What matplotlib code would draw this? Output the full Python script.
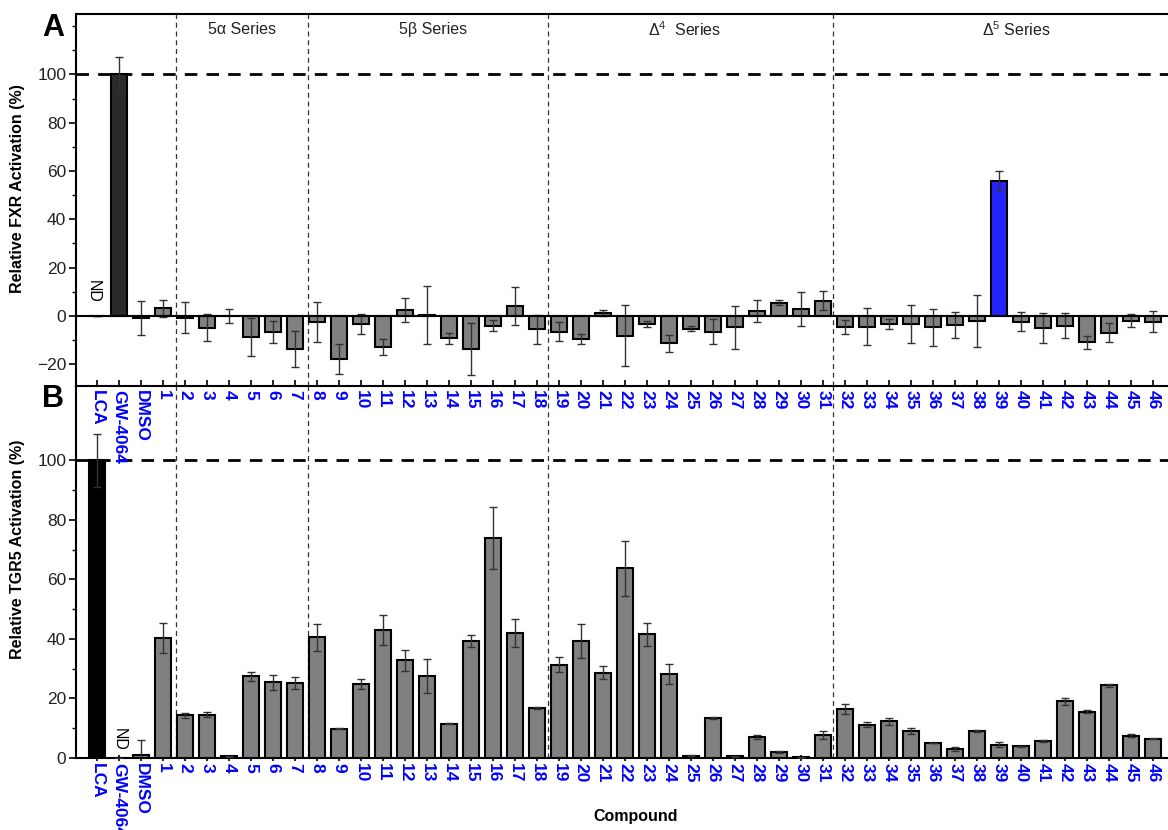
import numpy as np
import matplotlib.pyplot as plt
from matplotlib.ticker import MultipleLocator

plt.rcParams['font.family'] = ['Liberation Sans', 'DejaVu Sans']
plt.rcParams['mathtext.fontset'] = 'custom'
plt.rcParams['mathtext.rm'] = 'Liberation Sans'
plt.rcParams['mathtext.it'] = 'Liberation Sans'

nan = np.nan
compounds = ['LCA', 'GW-4064', 'DMSO'] + [str(i) for i in range(1, 47)]

# FXR activation (%), panel A
fxr_mean = [nan, 100, -0.7,
            3.2, -0.7, -4.8, 0.0, -8.6, -6.8, -13.7, -2.5, -17.8, -3.3,
            -12.7, 2.5, 0.5, -9.2, -13.7, -4.0, 4.1, -5.5, -6.5, -9.5,
            1.1, -8.1, -3.4, -11.3, -5.2, -6.5, -4.7, 2.1, 5.5, 2.9,
            6.3, -4.4, -4.4, -3.3, -3.3, -4.7, -3.7, -2.1, 56.0, -2.3,
            -5.1, -4.0, -10.9, -6.9, -1.9, -2.3]
fxr_err = [nan, 7, 7,
           3.5, 6.4, 5.5, 2.9, 7.8, 4.6, 7.5, 8.4, 6.2, 4.3,
           3.3, 5.1, 12, 2.3, 10.8, 2.4, 7.9, 6, 4, 2,
           1.2, 12.7, 1.3, 3.6, 1, 5.3, 8.9, 4.6, 0.9, 7,
           4, 2.9, 7.7, 1.9, 7.7, 7.7, 5.3, 10.7, 4, 3.8,
           6.3, 5.2, 2.7, 3.9, 2.8, 4.5]

# TGR5 activation (%), panel B
tgr5_mean = [100, nan, 0.9,
             40.2, 14.3, 14.6, 0.6, 27.5, 25.4, 25.1, 40.5, 9.9, 24.8,
             42.9, 32.8, 27.7, 11.5, 39.3, 73.8, 42.0, 16.9, 31.4, 39.3,
             28.6, 63.7, 41.5, 28.1, 0.8, 13.5, 0.6, 7.1, 1.9, 0.2,
             7.8, 16.6, 11.2, 12.3, 9.0, 5.0, 3.1, 9.1, 4.5, 3.9,
             5.7, 19.1, 15.5, 24.4, 7.5, 6.5]
tgr5_err = [9, nan, 5,
            5, 0.8, 0.9, 0.1, 1.5, 2.4, 2, 4.4, 0.2, 1.7,
            5, 3.6, 5.7, 0.2, 2.1, 10.4, 4.7, 0.3, 2.6, 5.6,
            2.2, 9.3, 3.7, 3.4, 0.1, 0.3, 0.1, 0.6, 0.3, 0.1,
            1.3, 1.7, 0.8, 1.3, 1, 0.1, 0.6, 0.3, 0.8, 0.1,
            0.3, 1.2, 0.5, 0.6, 0.4, 0.1]

series_names = ['5\u03b1 Series', '5\u03b2 Series', r'$\Delta^4$  Series', r'$\Delta^5$ Series']
series_bounds = [3.58, 9.58, 20.5, 33.45]
series_label_x = [6.6, 15.3, 26.7, 41.8]

x = np.arange(len(compounds))
fxr_colors = ['#808080'] * len(compounds)
fxr_colors[compounds.index('GW-4064')] = '#2a2a2a'
fxr_colors[compounds.index('39')] = '#2424ff'
tgr5_colors = ['#808080'] * len(compounds)
tgr5_colors[compounds.index('LCA')] = '#000000'

fig = plt.figure(figsize=(11.68, 8.3), dpi=100)
W, H = 1168, 830
left, right = 76, 1170
axB = fig.add_axes([left / W, (H - 758) / H, (right - left) / W, (758 - 386) / H])
axA = fig.add_axes([left / W, (H - 386) / H, (right - left) / W, (386 - 14) / H])
axB.patch.set_visible(False)
axA.patch.set_visible(False)
axA.set_zorder(3)

xlim = (-0.953, 48.78)
tick_blue = '#0000ff'


def draw_panel(ax, means, errs, colors):
    ax.bar(x, np.nan_to_num(means), width=0.75, color=colors,
           edgecolor='black', linewidth=1.5, zorder=3)
    ax.errorbar(x, np.nan_to_num(means), yerr=np.nan_to_num(errs), fmt='none',
                ecolor='#333333', elinewidth=1, capsize=3, capthick=1, zorder=4)
    ax.axhline(100, color='black', lw=2, ls=(0, (4.5, 3.3)), zorder=2)
    for b in series_bounds:
        ax.axvline(b, color='#333333', lw=0.9, ls=(0, (4, 3)), zorder=2)
    ax.set_xlim(*xlim)
    ax.set_xticks(x)
    ax.set_xticklabels(compounds, rotation=270, color=tick_blue,
                       fontweight='bold', fontsize=12.5, va='top', ha='center')
    ax.tick_params(axis='y', which='major', length=5, width=1.2, pad=2,
                   labelsize=12.5, labelcolor='#222222')
    ax.tick_params(axis='y', which='minor', length=3, width=1.0)
    ax.spines['left'].set_linewidth(1.5)
    ax.spines['bottom'].set_linewidth(1.5)


# panel A: FXR
draw_panel(axA, fxr_mean, fxr_err, fxr_colors)
axA.axhline(0, color='black', lw=1.5, zorder=5)
axA.set_ylim(-29, 125)
axA.set_yticks([-20, 0, 20, 40, 60, 80, 100])
axA.yaxis.set_minor_locator(MultipleLocator(10))
axA.tick_params(axis='x', direction='in', length=4, width=1.2, pad=3)
axA.spines['top'].set_linewidth(1.5)
axA.spines['right'].set_visible(False)
axA.set_ylabel('Relative FXR Activation (%)', fontweight='bold', fontsize=11.5)
axA.yaxis.set_label_coords(-0.0466, 0.53)
for name, lx in zip(series_names, series_label_x):
    axA.text(lx, 118.5, name, ha='center', va='center', fontsize=11.5, color='#222222')
axA.text(-0.15, 10, 'ND', rotation=270, ha='center', va='center', fontsize=11.5)
axA.text(-1.5, 119, 'A', fontsize=22, fontweight='bold',
         ha='right', va='center', clip_on=False)

# panel B: TGR5
draw_panel(axB, tgr5_mean, tgr5_err, tgr5_colors)
axB.set_ylim(0, 125)
axB.set_yticks([0, 20, 40, 60, 80, 100])
axB.set_yticks(np.arange(10, 100, 20), minor=True)
axB.tick_params(axis='x', direction='inout', length=5, width=1.2, pad=1)
axB.spines['top'].set_visible(False)
axB.spines['right'].set_visible(False)
axB.set_ylabel('Relative TGR5 Activation (%)', fontweight='bold', fontsize=11.5)
axB.yaxis.set_label_coords(-0.0466, 0.562)
axB.text(1, 6.4, 'ND', rotation=270, ha='center', va='center', fontsize=11.5)
axB.text(-1.5, 120.5, 'B', fontsize=22, fontweight='bold',
         ha='right', va='center', clip_on=False)
fig.text(636 / W, 1 - 816 / H, 'Compound', fontweight='bold', fontsize=11.5,
         ha='center', va='center')

fig.savefig('out.png', dpi=100)
